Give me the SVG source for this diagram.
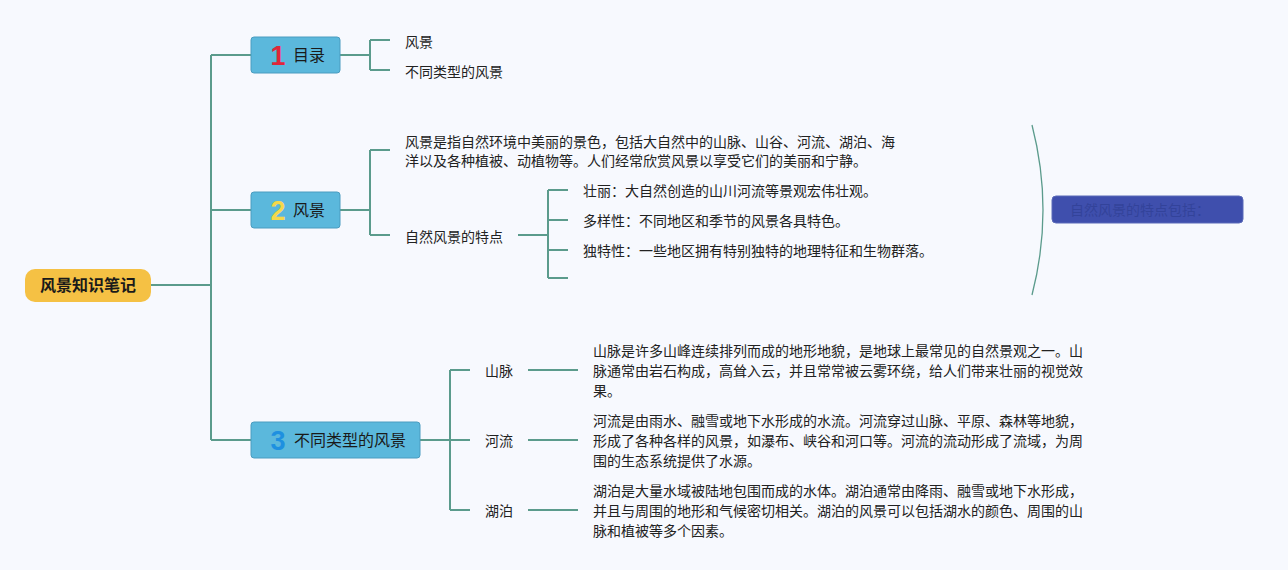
<svg xmlns="http://www.w3.org/2000/svg" width="1288" height="570" viewBox="0 0 1288 570">
<style>
.bg{fill:#f7f9fe}
.ln{fill:none;stroke:#5b9b8c;stroke-width:2}
.t{font-family:"Noto Sans CJK SC","Noto Sans",sans-serif;font-size:14px;fill:#222}
.nt{font-family:"Noto Sans CJK SC","Noto Sans",sans-serif;font-size:16px;fill:#1a1a1a}
.num{font-family:"Liberation Sans","Noto Sans",sans-serif;font-size:27px;font-weight:bold}
.box{fill:#5bb8dc;stroke:#4a9cc0;stroke-width:1}
</style>
<rect class="bg" width="1288" height="570"/>
<g id="connectors">
<path class="ln" d="M151 285H211M211 55V440M211 55H251M211 210H251M211 440H251"/>
<path class="ln" d="M340 55H370M370 40V70M370 40H390M370 70H390"/>
<path class="ln" d="M340 210H370M370 150V235M370 150H390M370 235H390"/>
<path class="ln" d="M518 235H548M548 190V278M548 190H568M548 220H568M548 250H568M548 278H568"/>
<path class="ln" d="M420 440H450M450 370V510M450 370H470M450 440H470M450 510H470"/>
<path class="ln" d="M528 370H578M528 440H578M528 510H578"/>
<path d="M1032 125Q1054 210 1032 295" fill="none" stroke="#5b9b8c" stroke-width="1.3"/>
</g>
<g id="root">
<rect x="25" y="269" width="126" height="33" rx="10" fill="#f5c144"/>
<text x="88" y="291" text-anchor="middle" class="nt" font-weight="bold">风景知识笔记</text>
</g>
<g id="node1">
<rect class="box" x="251" y="37" width="89" height="36" rx="3"/>
<text x="278" y="65" text-anchor="middle" class="num" fill="#e0263a">1</text>
<text x="293" y="61" class="nt">目录</text>
</g>
<g id="node1a"><text x="405" y="47" class="t">风景</text></g>
<g id="node1b"><text x="405" y="77" class="t">不同类型的风景</text></g>
<g id="node2">
<rect class="box" x="251" y="192" width="89" height="36" rx="3"/>
<text x="278" y="220" text-anchor="middle" class="num" fill="#f5d84a">2</text>
<text x="293" y="216" class="nt">风景</text>
</g>
<g id="node2a">
<text x="405" y="147" class="t">风景是指自然环境中美丽的景色，包括大自然中的山脉、山谷、河流、湖泊、海</text>
<text x="405" y="166" class="t">洋以及各种植被、动植物等。人们经常欣赏风景以享受它们的美丽和宁静。</text>
</g>
<g id="node2b"><text x="405" y="242" class="t">自然风景的特点</text></g>
<g id="node2b1"><text x="583" y="196" class="t">壮丽：大自然创造的山川河流等景观宏伟壮观。</text></g>
<g id="node2b2"><text x="583" y="226" class="t">多样性：不同地区和季节的风景各具特色。</text></g>
<g id="node2b3"><text x="583" y="256" class="t">独特性：一些地区拥有特别独特的地理特征和生物群落。</text></g>
<g id="summary">
<rect x="1052" y="196" width="191" height="27" rx="4" fill="#3f4fad" stroke="#5a6ab8" stroke-width="1"/>
<text x="1070" y="215" class="t" style="fill:#33439a">自然风景的特点包括：</text>
</g>
<g id="node3">
<rect class="box" x="251" y="422" width="169" height="36" rx="3"/>
<text x="278" y="450" text-anchor="middle" class="num" fill="#1e90e0">3</text>
<text x="294" y="446" class="nt">不同类型的风景</text>
</g>
<g id="node3a">
<text x="485" y="376" class="t">山脉</text>
<text x="593" y="356" class="t">山脉是许多山峰连续排列而成的地形地貌，是地球上最常见的自然景观之一。山</text>
<text x="593" y="376" class="t">脉通常由岩石构成，高耸入云，并且常常被云雾环绕，给人们带来壮丽的视觉效</text>
<text x="593" y="396" class="t">果。</text>
</g>
<g id="node3b">
<text x="485" y="446" class="t">河流</text>
<text x="593" y="426" class="t">河流是由雨水、融雪或地下水形成的水流。河流穿过山脉、平原、森林等地貌，</text>
<text x="593" y="446" class="t">形成了各种各样的风景，如瀑布、峡谷和河口等。河流的流动形成了流域，为周</text>
<text x="593" y="466" class="t">围的生态系统提供了水源。</text>
</g>
<g id="node3c">
<text x="485" y="516" class="t">湖泊</text>
<text x="593" y="496" class="t">湖泊是大量水域被陆地包围而成的水体。湖泊通常由降雨、融雪或地下水形成，</text>
<text x="593" y="516" class="t">并且与周围的地形和气候密切相关。湖泊的风景可以包括湖水的颜色、周围的山</text>
<text x="593" y="536" class="t">脉和植被等多个因素。</text>
</g>
</svg>
